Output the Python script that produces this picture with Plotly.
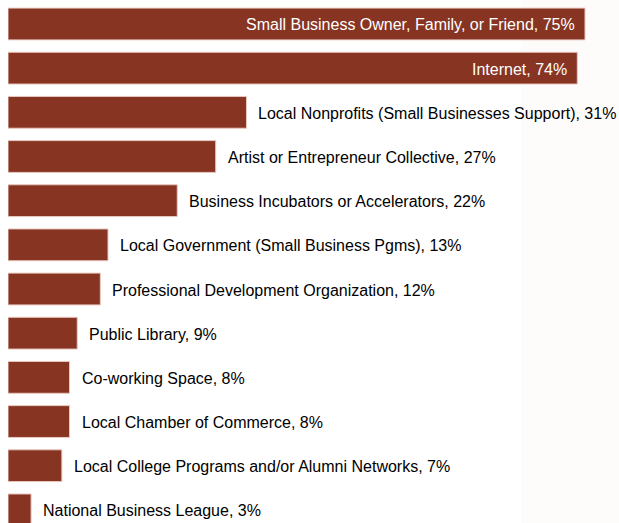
import plotly.graph_objects as go

categories = [
    "Small Business Owner, Family, or Friend",
    "Internet",
    "Local Nonprofits (Small Businesses Support)",
    "Artist or Entrepreneur Collective",
    "Business Incubators or Accelerators",
    "Local Government (Small Business Pgms)",
    "Professional Development Organization",
    "Public Library",
    "Co-working Space",
    "Local Chamber of Commerce",
    "Local College Programs and/or Alumni Networks",
    "National Business League",
]
values = [75, 74, 31, 27, 22, 13, 12, 9, 8, 8, 7, 3]
inside_count = 2  # the longest bars carry their label inside

BAR_COLOR = "#873423"
FONT = "Liberation Sans, Arial, sans-serif"
FONT_SIZE = 16

fig = go.Figure(
    go.Bar(
        x=values,
        y=categories,
        orientation="h",
        width=0.72,
        marker=dict(color=BAR_COLOR, line=dict(color="#e9c9c0", width=1)),
        hoverinfo="skip",
    )
)

annotations = []
for i, (cat, val) in enumerate(zip(categories, values)):
    label = f"{cat}, {val}%"
    if i < inside_count:
        annotations.append(dict(
            x=val, y=cat, text=label, showarrow=False,
            xanchor="right", xshift=-8, yshift=-1,
            font=dict(family=FONT, size=FONT_SIZE, color="white"),
        ))
    else:
        annotations.append(dict(
            x=val, y=cat, text=label, showarrow=False,
            xanchor="left", xshift=10, yshift=-1,
            font=dict(family=FONT, size=FONT_SIZE, color="black"),
        ))

# very faint warm backdrop along the right edge
shapes = [dict(
    type="rect", xref="paper", yref="paper", x0=0.84, x1=1.02, y0=0, y1=1,
    fillcolor="#fefcfa", line=dict(width=0), layer="below",
)]

fig.update_layout(
    width=619,
    height=523,
    margin=dict(l=8, r=0, t=0, b=0),
    paper_bgcolor="white",
    plot_bgcolor="rgba(0,0,0,0)",
    showlegend=False,
    annotations=annotations,
    shapes=shapes,
    xaxis=dict(range=[0, 79.42], visible=False, fixedrange=True),
    yaxis=dict(range=[11.297, -0.543], visible=False, fixedrange=True),
)

fig.write_html("out.html")
